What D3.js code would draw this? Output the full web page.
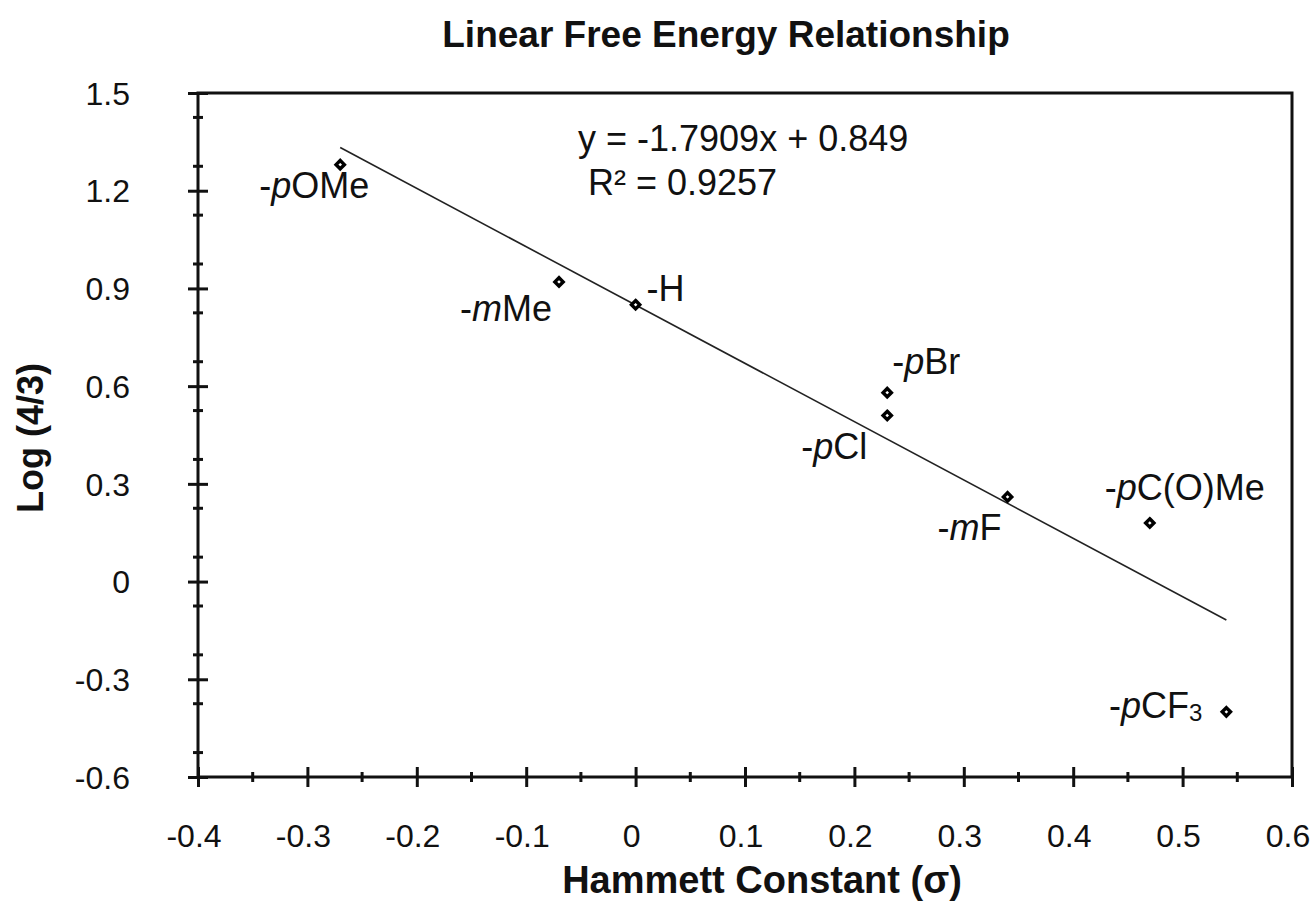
<!DOCTYPE html>
<html>
<head>
<meta charset="utf-8">
<script src="https://cdn.jsdelivr.net/npm/d3@7"></script>
<style>
	body { margin: 0; background: #fff; }
	text { font-family: "Liberation Sans", Arial, Helvetica, sans-serif; fill: #111; }
</style>
</head>
<body>
<svg id="chart" width="1316" height="922"></svg>
<script>
"use strict";

// Data
const substituents = ["-pOMe", "-mMe", "-H", "-pBr", "-pCl", "-mF", "-pC(O)Me", "-pCF3"];
const sigma = [-0.27, -0.07, 0, 0.23, 0.23, 0.34, 0.47, 0.54];
const logRatio = [1.28, 0.92, 0.85, 0.58, 0.51, 0.26, 0.18, -0.40];

// Linear fit shown on the chart
const slope = -1.7909;
const intercept = 0.849;
const rSquared = 0.9257;

const xTicks = [-0.4, -0.3, -0.2, -0.1, 0, 0.1, 0.2, 0.3, 0.4, 0.5, 0.6];
const yTicks = [-0.6, -0.3, 0, 0.3, 0.6, 0.9, 1.2, 1.5];
const xTickLabels = ["-0.4", "-0.3", "-0.2", "-0.1", "0", "0.1", "0.2", "0.3", "0.4", "0.5", "0.6"];
const yTickLabels = ["-0.6", "-0.3", "0", "0.3", "0.6", "0.9", "1.2", "1.5"];

// label placement relative to each point (pixels)
const labelPlacement = [
	{dx: -26, dy: 33, anchor: "middle"},
	{dx: -7, dy: 39, anchor: "end"},
	{dx: 11, dy: -4, anchor: "start"},
	{dx: 5, dy: -19, anchor: "start"},
	{dx: -20, dy: 44, anchor: "end"},
	{dx: -6, dy: 43, anchor: "end"},
	{dx: -45, dy: -23, anchor: "start"},
	{dx: -24, dy: 6, anchor: "end"}
];

const plotLeft = 198, plotRight = 1292, plotTop = 93, plotBottom = 777;

const x = d3.scaleLinear().domain([-0.4, 0.6]).range([plotLeft, plotRight]);
const y = d3.scaleLinear().domain([-0.6, 1.5]).range([plotBottom, plotTop]);

const svg = d3.select("#chart");

// Title
svg.append("text")
	.attr("x", 726).attr("y", 47)
	.attr("text-anchor", "middle")
	.style("font-size", "37px").style("font-weight", "bold")
	.text("Linear Free Energy Relationship");

// Frame
svg.append("rect")
	.attr("x", plotLeft).attr("y", plotTop)
	.attr("width", plotRight - plotLeft).attr("height", plotBottom - plotTop)
	.attr("fill", "none").attr("stroke", "#111").attr("stroke-width", 3);

// Minor ticks
const yMinor = d3.range(0, 14).map(i => -0.6 + 0.15 * i + 0.075).filter(v => v < 1.5);
const xMinor = d3.range(0, 10).map(i => -0.4 + 0.1 * i + 0.05);

svg.append("g").selectAll("line")
	.data(yMinor).enter().append("line")
	.attr("x1", plotLeft - 5).attr("x2", plotLeft + 5)
	.attr("y1", d => y(d)).attr("y2", d => y(d))
	.attr("stroke", "#111").attr("stroke-width", 3);

svg.append("g").selectAll("line")
	.data(xMinor).enter().append("line")
	.attr("y1", plotBottom - 5).attr("y2", plotBottom + 5)
	.attr("x1", d => x(d)).attr("x2", d => x(d))
	.attr("stroke", "#111").attr("stroke-width", 3);

// Y axis
const yAxis = svg.append("g")
	.attr("transform", `translate(${plotLeft},0)`)
	.call(d3.axisLeft(y).tickValues(yTicks).tickSize(10)
		.tickFormat((d, i) => yTickLabels[i]));
yAxis.select(".domain").remove();
yAxis.selectAll(".tick line").attr("x1", 10).attr("stroke", "#111").attr("stroke-width", 3);
yAxis.selectAll(".tick text")
	.attr("x", -68).attr("dy", "0.35em")
	.style("font-size", "32px").style("font-family", "Liberation Sans, Arial, sans-serif")
	.attr("fill", "#111");

// X axis (tick marks from the axis, labels placed below)
const xAxis = svg.append("g")
	.attr("transform", `translate(0,${plotBottom})`)
	.call(d3.axisBottom(x).tickValues(xTicks).tickSize(10).tickFormat(""));
xAxis.select(".domain").remove();
xAxis.selectAll(".tick line").attr("y1", -10).attr("stroke", "#111").attr("stroke-width", 3);

svg.append("g").selectAll("text")
	.data(xTicks).enter().append("text")
	.attr("x", d => x(d) - 4)
	.attr("y", 847)
	.attr("text-anchor", "middle")
	.style("font-size", "32px")
	.text((d, i) => xTickLabels[i]);

// Axis titles
svg.append("text")
	.attr("x", 762).attr("y", 893)
	.attr("text-anchor", "middle")
	.style("font-size", "38px").style("font-weight", "bold")
	.text("Hammett Constant (σ)");

svg.append("text")
	.attr("transform", "translate(43,438) rotate(-90)")
	.attr("text-anchor", "middle")
	.style("font-size", "36px").style("font-weight", "bold")
	.text("Log (4/3)");

// Trendline
const xMin = d3.min(sigma), xMax = d3.max(sigma);
svg.append("line")
	.attr("x1", x(xMin)).attr("y1", y(slope * xMin + intercept))
	.attr("x2", x(xMax)).attr("y2", y(slope * xMax + intercept))
	.attr("stroke", "#222").attr("stroke-width", 1.6);

// Equation
svg.append("text")
	.attr("x", 578).attr("y", 151)
	.style("font-size", "36px")
	.text(`y = ${slope}x + ${intercept}`);
svg.append("text")
	.attr("x", 588).attr("y", 195)
	.style("font-size", "36px")
	.text(`R² = ${rSquared}`);

// Points
const points = substituents.map((name, i) => ({name, sx: sigma[i], ly: logRatio[i], place: labelPlacement[i]}));

svg.append("g").selectAll("path")
	.data(points).enter().append("path")
	.attr("transform", d => `translate(${x(d.sx)},${y(d.ly)})`)
	.attr("d", d3.symbol(d3.symbolDiamond2, 44))
	.attr("fill", "#fff").attr("stroke", "#000").attr("stroke-width", 3.4);

// Point labels: "-" + italic position letter + group (digits subscript)
const labels = svg.append("g").selectAll("text")
	.data(points).enter().append("text")
	.attr("x", d => x(d.sx) + d.place.dx)
	.attr("y", d => y(d.ly) + d.place.dy)
	.attr("text-anchor", d => d.place.anchor)
	.style("font-size", "36px");

labels.each(function(d) {
	const t = d3.select(this);
	t.append("tspan").text(d.name[0]);
	if (d.name.length > 2) {
		t.append("tspan").style("font-style", "italic").text(d.name[1]);
		const rest = d.name.slice(2);
		const parts = rest.match(/\d+|\D+/g);
		parts.forEach(p => {
			if (/^\d+$/.test(p)) {
				t.append("tspan").style("font-size", "24px").attr("dy", 3).text(p);
			} else {
				t.append("tspan").text(p);
			}
		});
	} else {
		t.append("tspan").text(d.name.slice(1));
	}
});
</script>
</body>
</html>
